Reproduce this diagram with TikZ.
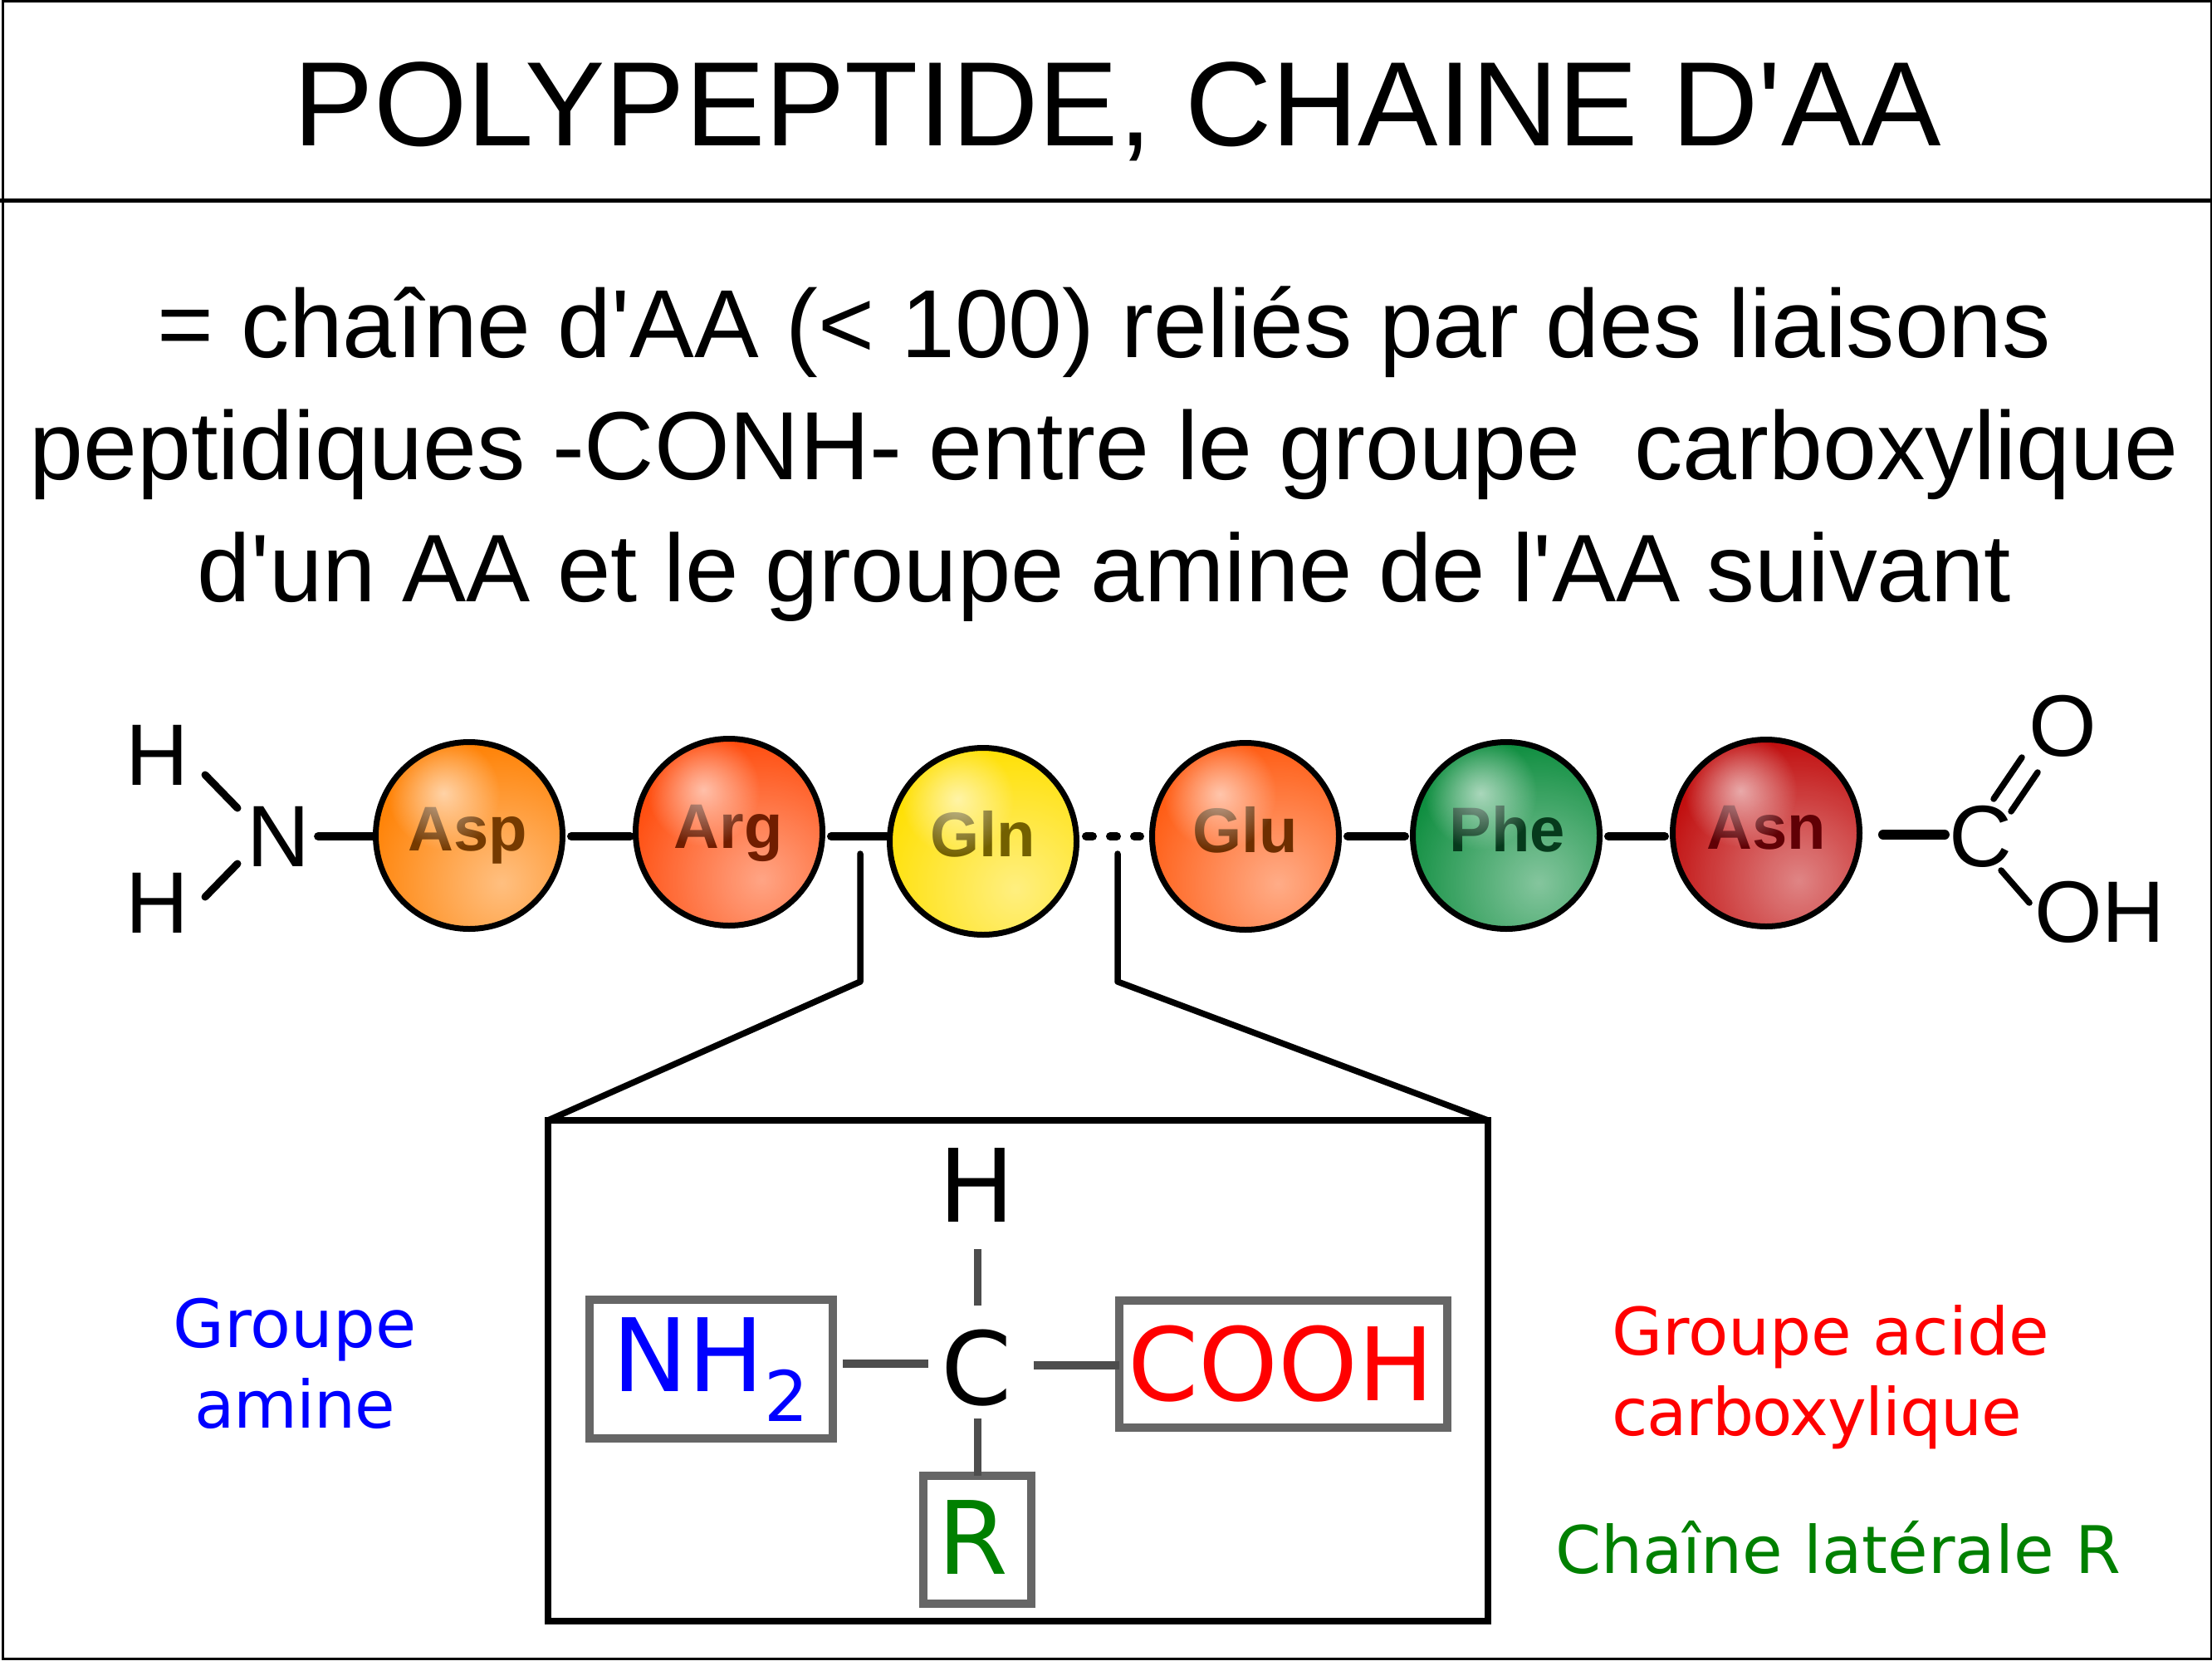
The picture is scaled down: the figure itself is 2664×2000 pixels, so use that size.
\documentclass[tikz,border=0pt]{standalone}
\usepackage{fontspec}
\newfontfamily\libs{Liberation Sans}
\newfontfamily\dvs{DejaVu Sans}
\usetikzlibrary{fadings,calc}
\tikzfading[name=glow, inner color=transparent!0, outer color=transparent!100]
\definecolor{boxgray}{HTML}{666666}
\definecolor{bondgray}{HTML}{4D4D4D}
\definecolor{labgreen}{HTML}{008000}
\definecolor{aspc}{HTML}{FF8000}\definecolor{asptx}{HTML}{753A00}
\definecolor{argc}{HTML}{FF4A0A}\definecolor{argtx}{HTML}{701D00}
\definecolor{glnc}{HTML}{FFE000}\definecolor{glntx}{HTML}{736000}
\definecolor{gluc}{HTML}{FF5A10}\definecolor{glutx}{HTML}{6D2E00}
\definecolor{phec}{HTML}{0A8C3C}\definecolor{phetx}{HTML}{063A1C}
\definecolor{asnc}{HTML}{C00A0A}\definecolor{asntx}{HTML}{600005}
\newcommand{\fsz}[1]{\fontsize{#1}{#1}\selectfont}
\tikzset{
  x=1pt,y=-1pt,
  every node/.style={inner sep=0pt},
  frameline/.style={line width=3pt,black},
  bond/.style={line width=10pt,black,line cap=round},
  thinbond/.style={line width=7.5pt,black,line cap=round},
  nhbond/.style={line width=9pt,black,line cap=round},
  callout/.style={line width=7.5pt,black,line join=round,line cap=round},
  ballnode/.style={circle,draw=black,line width=7pt,minimum size=225pt},
  balllabel/.style={font=\libs\bfseries\fsz{76},anchor=base},
  chem/.style={font=\libs\fsz{105},anchor=base},
  detailtext/.style={font=\dvs\fsz{122},anchor=base},
  graybox/.style={draw=boxgray,line width=10pt,outer sep=0pt},
  graybond/.style={line width=9pt,bondgray},
  sidetext/.style={font=\dvs\fsz{79},anchor=base west},
  bodytext/.style={anchor=base},
}
\newcommand{\ball}[8]{%
  \begin{scope}
    \clip (#2,#3) circle (111);
    \fill[#4] (#2,#3) circle (112);
    \fill[white,opacity=.5,path fading=glow] ($(#2,#3)+(39,57)$) circle (175);
    \node[balllabel,text=#5] (#1lab) at (#7,#8) {#6};
    \fill[white,opacity=.6,path fading=glow] ($(#2,#3)+(-31,-51)$) circle (68);
  \end{scope}
  \node[ballnode] (#1) at (#2,#3) {};
}
\begin{document}
\begin{tikzpicture}
\useasboundingbox (0,0) rectangle (2664,2000);
\fill[white] (0,0) rectangle (2664,2000);
\coordinate (tl) at (3,1.5);
\coordinate (br) at (2663,1997.5);
\draw[frameline] (tl) rectangle (br);
\coordinate (ruleL) at (0,241.5);
\coordinate (ruleR) at (2664,241.5);
\draw[frameline,line width=5pt] (ruleL) -- (ruleR);

\node[font=\libs\fsz{144.5},anchor=base] (title) at (1346,175) {POLYPEPTIDE, CHAINE D'AA};
\node[bodytext,font=\libs\fsz{116.4}] (l1) at (1330,430) {= chaîne d'AA (< 100) reliés par des liaisons};
\node[bodytext,font=\libs\fsz{116.7}] (l2) at (1330,577) {peptidiques -CONH- entre le groupe\ \ carboxylique};
\node[bodytext,font=\libs\fsz{115.6}] (l3) at (1330,724) {d'un AA et le groupe amine de l'AA suivant};

% chain atoms
\node[chem] (h1) at (189,945) {H};
\node[chem] (h2) at (189,1123) {H};
\node[chem] (n) at (335,1043) {N};
\node[chem] (c) at (2385,1043) {C};
\node[chem] (o) at (2484,910) {O};
\node[chem] (oh) at (2529,1134) {OH};

% beads
\ball{asp}{565}{1006}{aspc}{asptx}{Asp}{563}{1024}
\ball{arg}{878}{1002}{argc}{argtx}{Arg}{877}{1021}
\ball{gln}{1184}{1013}{glnc}{glntx}{Gln}{1184}{1031}
\ball{glu}{1500}{1007}{gluc}{glutx}{Glu}{1500}{1026}
\ball{phe}{1814}{1006}{phec}{phetx}{Phe}{1815}{1025}
\ball{asn}{2127}{1003}{asnc}{asntx}{Asn}{2127}{1022}

% backbone
\coordinate (rail) at (0,1007);
\draw[bond,shorten <=10pt] (n.east |- rail) -- (asp.west |- rail);
\draw[bond,shorten <=7pt,shorten >=3pt] (asp.east |- rail) -- (arg.west |- rail);
\draw[bond,shorten <=7pt] (arg.east |- rail) -- (gln.west |- rail);
\draw[line width=10pt,black,line cap=round,dash pattern=on 8pt off 21pt,shorten <=8pt,shorten >=11pt] (gln.east |- rail) -- (glu.west |- rail);
\draw[bond,shorten <=7pt,shorten >=6pt] (glu.east |- rail) -- (phe.west |- rail);
\draw[bond,shorten <=7pt,shorten >=6pt] (phe.east |- rail) -- (asn.west |- rail);
\coordinate (railb) at (0,1005);
\draw[line width=12pt,black,line cap=round,shorten <=25pt,shorten >=5pt] (asn.east |- railb) -- (c.west |- railb);

% side bonds
\coordinate (hna) at (247,933);\coordinate (hnb) at (286,973);
\coordinate (hnc) at (247,1080);\coordinate (hnd) at (286,1040);
\draw[nhbond] (hna) -- (hnb);
\draw[nhbond] (hnc) -- (hnd);
\coordinate (doa) at (2401,962);\coordinate (dob) at (2435,912);
\coordinate (doc) at (2422,977);\coordinate (dod) at (2454,930);
\draw[thinbond] (doa) -- (dob);
\draw[thinbond] (doc) -- (dod);
\coordinate (oha) at (2410,1048);\coordinate (ohb) at (2444,1087);
\draw[thinbond] (oha) -- (ohb);

% enlarged detail
\node[draw=black,line width=7.5pt,minimum width=1132pt,minimum height=603pt,outer sep=0pt] (detail) at (1226,1650.5) {};
\coordinate (cla) at (1036,1028);\coordinate (clb) at (1036,1182);
\coordinate (cra) at (1346,1028);\coordinate (crb) at (1346,1182);
\draw[callout] (cla) -- (clb) -- (detail.north west);
\draw[callout] (cra) -- (crb) -- (detail.north east);

\node[graybox,minimum width=293pt,minimum height=167pt] (nh2box) at (856.5,1648.5) {};
\node[graybox,minimum width=395pt,minimum height=153pt] (coohbox) at (1545.5,1642.5) {};
\node[graybox,minimum width=130pt,minimum height=154pt] (rbox) at (1177,1854) {};

\node[detailtext] (ch) at (1176,1471) {H};
\node[detailtext] (cc) at (1176,1691) {C};
\node[detailtext,anchor=base west,text=blue] (nh2) at (737,1675) {NH\raisebox{-36pt}{\fsz{84}2}};
\node[detailtext,text=red] (cooh) at (1543,1686) {COOH};
\node[detailtext,anchor=base west,text=labgreen] (r) at (1129,1895) {R};

\coordinate (ha) at (1177,1504);\coordinate (hb) at (1177,1572);
\coordinate (ra) at (1177,1708);
\draw[graybond] (ha) -- (hb);
\draw[graybond] (ra) -- (rbox.north);
\coordinate (na) at (1015,1642);\coordinate (nb) at (1118,1642);
\draw[graybond,line width=10pt] (na) -- (nb);
\coordinate (ca) at (1245,1644);
\draw[graybond,line width=10pt] (ca) -- (coohbox.west |- ca);

% side labels
\node[sidetext,anchor=base,text=blue] (ga1) at (355,1622) {\fsz{80}Groupe};
\node[sidetext,anchor=base,text=blue] (ga2) at (355,1719) {\addfontfeature{LetterSpace=-1.5}amine};
\node[sidetext,text=red] (gc1) at (1941,1631) {Groupe acide};
\node[sidetext,text=red] (gc2) at (1941,1728) {\addfontfeature{LetterSpace=-1.5}carboxylique};
\node[sidetext,text=labgreen] (gr) at (1873,1894) {Chaîne latérale R};
\end{tikzpicture}
\end{document}
